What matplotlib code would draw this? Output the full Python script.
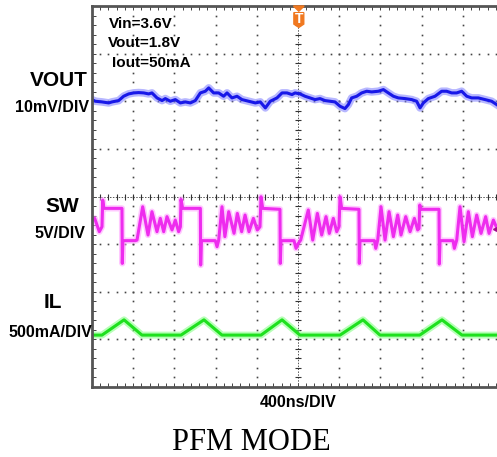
import numpy as np
import matplotlib.pyplot as plt
from matplotlib.patches import Polygon

plt.rcParams['font.family'] = ['Liberation Sans', 'DejaVu Sans']

# --- scope traces ---
# VOUT (AC coupled ripple, mV)
vout_t_ns = [0, 32, 97, 162, 194, 259, 307, 356, 405, 453, 502, 550, 582, 631, 680, 712, 760, 809, 858, 906,
             955, 1003, 1052, 1100, 1133, 1181, 1230, 1278, 1311, 1359, 1408, 1456, 1521, 1586, 1634, 1683,
             1731, 1796, 1845, 1893, 1942, 1971, 2020, 2068, 2117, 2165, 2214, 2262, 2311, 2359, 2408, 2456,
             2489, 2521, 2570, 2618, 2667, 2715, 2780, 2829, 2877, 2926, 2974, 3039, 3104, 3152, 3185, 3217,
             3265, 3330, 3395, 3443, 3492, 3540, 3589, 3638, 3686, 3751, 3816, 3880, 3929]
vout_mv = [-0.35, -0.7, -0.84, -1.05, -0.84, -0.56, 0.35, 0.84, 1.05, 1.12, 1.05, 0.84, 1.05, 0.0, -0.56, -0.14,
           -0.7, -0.35, -1.05, -0.84, -1.05, -0.56, 1.05, 1.4, 2.1, 1.05, 1.05, 0.35, 1.05, 0.0, 0.35, -0.35,
           -0.7, -1.05, -0.84, -2.1, -0.7, 0.0, 1.05, 1.05, 0.7, 1.05, 0.84, 0.35, 0.0, -0.35, -0.14, -0.56,
           -0.7, -0.84, -1.75, -2.24, -1.4, 0.0, 0.35, 1.05, 1.4, 1.26, 1.4, 1.75, 1.05, 0.35, 0.0, -0.14,
           -0.35, -0.7, -2.1, -1.05, -0.14, 0.35, 1.4, 1.4, 1.05, 1.05, 1.4, 0.35, 0.0, 0.0, -0.35, -0.7, -1.4]

# SW node (V)
sw_t_ns = [0, 26, 71, 97, 104, 116, 291, 294, 300, 421, 437, 492, 544, 582, 631, 663, 696, 728, 777, 809,
           841, 858, 864, 880, 1052, 1055, 1062, 1197, 1214, 1230, 1262, 1290, 1327, 1379, 1411, 1453, 1486,
           1524, 1567, 1605, 1631, 1641, 1657, 1825, 1828, 1835, 1961, 1981, 2003, 2026, 2100, 2143, 2188,
           2230, 2272, 2304, 2343, 2376, 2398, 2408, 2424, 2592, 2595, 2602, 2742, 2755, 2774, 2806, 2845,
           2884, 2926, 2968, 3000, 3046, 3088, 3130, 3162, 3175, 3182, 3195, 3369, 3372, 3379, 3505, 3518,
           3541, 3573, 3612, 3654, 3693, 3735, 3777, 3822, 3855, 3897, 3932]
sw_v = [2.14, 2.38, 0.98, 1.5, 4.3, 3.43, 3.43, -2.35, 0.04, 0.04, 0.1, 3.6, 0.63, 3.08, 0.98, 2.38, 0.98,
        2.56, 1.16, 2.2, 0.98, 1.5, 4.37, 3.43, 3.43, -2.52, 0.04, 0.04, -0.6, 0.1, 3.6, 0.46, 3.08, 0.81,
        2.9, 0.98, 2.73, 0.98, 2.38, 1.16, 1.5, 4.65, 3.43, 3.33, -2.35, 0.04, 0.04, -0.77, -0.25, 0.1,
        3.26, 0.1, 2.9, 0.63, 2.56, 0.8, 2.38, 0.98, 1.5, 4.65, 3.43, 3.33, -2.35, 0.04, 0.04, -0.77, 0.1,
        3.6, 0.1, 3.08, 0.46, 2.73, 0.63, 2.56, 0.98, 2.38, 1.16, 1.33, 3.78, 3.33, 3.33, -2.42, 0.04,
        0.04, -0.77, 0.1, 3.6, -0.07, 3.08, 0.46, 2.73, 0.8, 2.56, 0.8, 2.2, 1.33]

# inductor current (mA)
il_t_ns = [0, 97, 311, 485, 864, 1087, 1262, 1641, 1845, 2019, 2408, 2631, 2796, 3182, 3398, 3592, 3932]
il_ma = [0, 0, 160, 0, 0, 160, 0, 0, 160, 0, 0, 160, 0, 0, 160, 0, 0]

# channel setup: screen offset (div) and units per div
NS_PER_DIV = 400
VOUT_POS, VOUT_SCALE = 2.07, 10
SW_POS, SW_SCALE = -0.935, 5
IL_POS, IL_SCALE = -2.91, 500

W, H = 497, 457
fig = plt.figure(figsize=(W / 100, H / 100), dpi=100)
ax = fig.add_axes([92 / W, 70 / H, 412 / W, 381 / H])
ax.set_xlim(0, 10)
ax.set_ylim(-4, 4)

# graticule: dotted divisions
ys = np.arange(-4, 4.001, 0.2)
xs = np.arange(0, 10.001, 0.2)
for gx in range(1, 10):
    if gx != 5:
        ax.plot(np.full(len(ys), gx), ys, ls='none', marker='s', ms=1.2, mew=0, color='#444')
for gy in range(-3, 4):
    if gy != 0:
        ax.plot(xs, np.full(len(xs), gy), ls='none', marker='s', ms=1.2, mew=0, color='#444')

# center cross with sub-division ticks
ax.axvline(5, color='#555', lw=0.7, ls=(0, (1.5, 1.5)))
ax.axhline(0, color='#555', lw=0.7, ls=(0, (1.5, 1.5)))
ax.plot(np.full(len(ys), 5), ys, ls='none', marker='_', ms=5, mew=0.8, color='#333')
ax.plot(xs, np.zeros(len(xs)), ls='none', marker='|', ms=5, mew=0.8, color='#333')

# border ticks
ax.set_xticks(xs)
ax.set_yticks(ys)
ax.tick_params(direction='in', length=3, width=0.7, color='#444', top=True, right=True,
               labelbottom=False, labelleft=False)
for s in ax.spines.values():
    s.set_linewidth(2)
    s.set_color('#555')


def draw(t, val, pos, scale, core, halo, wide=5.0):
    x = np.array(t) / NS_PER_DIV
    y = pos + np.array(val) / scale
    ax.plot(x, y, color=halo, lw=wide, alpha=0.55, solid_joinstyle='round')
    ax.plot(x, y, color=core, lw=2.2, solid_joinstyle='round')


draw(vout_t_ns, vout_mv, VOUT_POS, VOUT_SCALE, '#1818e8', '#7c7cff', 5.5)
draw(sw_t_ns, sw_v, SW_POS, SW_SCALE, '#ee2cee', '#ff9cff', 4.5)
draw(il_t_ns, il_ma, IL_POS, IL_SCALE, '#1ee01e', '#7cff7c', 5.0)

# SW channel marker on the right edge
ax.plot([9.85], [-0.68], marker='<', ms=7, color='#a0108a', clip_on=False)

# trigger marker
ax.add_patch(Polygon([[4.89, 4.0], [5.15, 4.0], [5.02, 3.89]], closed=True, color='#f07820',
                     clip_on=False, zorder=5))
ax.add_patch(Polygon([[4.9, 3.86], [5.14, 3.86], [5.14, 3.62], [5.02, 3.55], [4.9, 3.62]],
                     closed=True, color='#f07820', zorder=5))
ax.text(5.02, 3.72, 'T', color='white', fontsize=10, fontweight='bold', ha='center', va='center',
        zorder=6)


def ftext(x, y, s, size, ha='center', **kw):
    fig.text(x / W, 1 - y / H, s, fontsize=size, ha=ha, va='baseline', fontweight='bold', **kw)


ftext(109, 28, 'Vin=3.6V', 11, ha='left')
ftext(108, 47, 'Vout=1.8V', 11, ha='left')
ftext(112, 67, 'Iout=50mA', 11, ha='left')

ftext(59, 86, 'VOUT', 15)
ftext(52.5, 112, '10mV/DIV', 11.5)
ftext(62.5, 212, 'SW', 15)
ftext(59.5, 238, '5V/DIV', 11.5)
ftext(53, 308, 'IL', 15)
ftext(50, 337, '500mA/DIV', 11.5)
ftext(298.5, 407, '400ns/DIV', 11.5)

fig.text(251 / W, 1 - 450 / H, 'PFM MODE', fontsize=22, family='Liberation Serif', ha='center',
         va='baseline')

fig.savefig('out.png', dpi=100)
